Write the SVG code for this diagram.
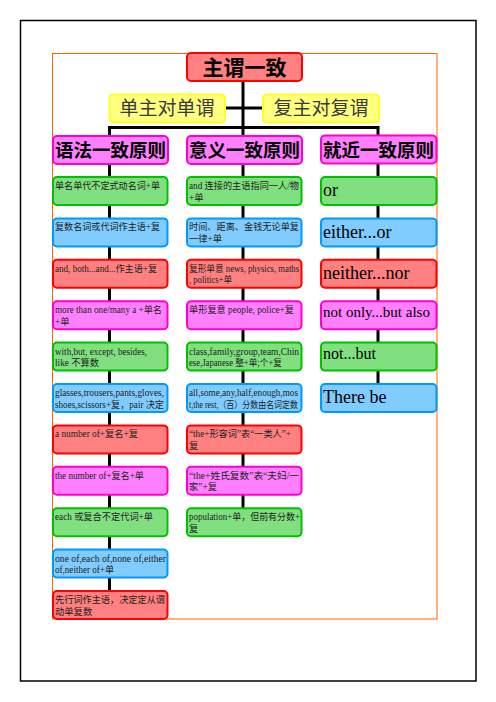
<svg xmlns="http://www.w3.org/2000/svg" width="496" height="702" viewBox="0 0 496 702">
<style>
.bx{stroke-width:2}
.g{fill:#80E080;stroke:#00C000}
.b{fill:#80CCFF;stroke:#0099FF}
.r{fill:#FF8080;stroke:#FF0000}
.p{fill:#FF80FF;stroke:#FF00CC}
.y{fill:#FFFF80;stroke:#FFFF22}
.hd{font-family:"Noto Sans CJK SC",sans-serif;font-weight:bold;fill:#000;text-anchor:middle}
.yt{font-family:"Noto Sans CJK SC",sans-serif;font-size:19px;fill:#3a3a3a;text-anchor:middle}
.sm{font-family:"Liberation Serif","Noto Sans CJK SC",serif;font-size:9.3px;fill:#1e1e1e}
.rt{font-family:"Liberation Serif","Noto Sans CJK SC",serif;fill:#000}
.ln{stroke:#000;stroke-width:3;fill:none}
</style>
<rect x="20.5" y="20.5" width="455.5" height="660.5" fill="#fff" stroke="#000" stroke-width="1.5"/>
<rect x="52.5" y="53.5" width="384.5" height="565.5" fill="none" stroke="#FF6600" stroke-width="1"/>
<g id="connectors">
<path class="ln" d="M243,81 V136 M225,108 H263 M108,127.5 H379.5 M109.5,127.5 V136 M378,127.5 V136"/>
<path class="ln" d="M109.5,164 V591 M243,164 V508.2 M378,163 V384"/>
</g>
<g id="root"><rect class="bx r" x="187" y="53" width="115" height="28" rx="4"/><text class="hd" x="244.5" y="75" font-size="21">主谓一致</text></g>
<g id="y1"><rect class="bx y" x="109.5" y="94.5" width="115.5" height="28" rx="4"/><text class="yt" x="167" y="115">单主对单谓</text></g>
<g id="y2"><rect class="bx y" x="263" y="94.5" width="116" height="28" rx="4"/><text class="yt" x="321" y="115">复主对复谓</text></g>
<g id="h1"><rect class="bx p" x="53" y="136" width="115" height="28" rx="4"/><text class="hd" x="110.5" y="157" font-size="18.5">语法一致原则</text></g>
<g id="h2"><rect class="bx p" x="187" y="136" width="115" height="28" rx="4"/><text class="hd" x="244.5" y="157" font-size="18.5">意义一致原则</text></g>
<g id="h3"><rect class="bx p" x="321" y="135.5" width="115.5" height="28" rx="4"/><text class="hd" x="378.5" y="156.5" font-size="18.5">就近一致原则</text></g>

<g id="L1"><rect class="bx g" x="53" y="177" width="114.5" height="28" rx="4"/><text class="sm" x="55" y="189" textLength="105" lengthAdjust="spacingAndGlyphs">单名单代不定式动名词+单</text></g>
<g id="L2"><rect class="bx b" x="53" y="218.4" width="114.5" height="28" rx="4"/><text class="sm" x="55" y="230.4" textLength="105" lengthAdjust="spacingAndGlyphs">复数名词或代词作主语+复</text></g>
<g id="L3"><rect class="bx r" x="53" y="259.8" width="114.5" height="28" rx="4"/><text class="sm" x="55" y="271.8" textLength="102" lengthAdjust="spacingAndGlyphs">and, both...and...作主语+复</text></g>
<g id="L4"><rect class="bx p" x="53" y="301.2" width="114.5" height="28" rx="4"/><text class="sm" x="55" y="313.2" textLength="107" lengthAdjust="spacingAndGlyphs">more than one/many a +单名</text><text class="sm" x="55" y="324.7">+单</text></g>
<g id="L5"><rect class="bx g" x="53" y="342.6" width="114.5" height="28" rx="4"/><text class="sm" x="55" y="354.6" textLength="92" lengthAdjust="spacingAndGlyphs">with,but, except, besides,</text><text class="sm" x="55" y="366.1" textLength="44" lengthAdjust="spacingAndGlyphs">like 不算数</text></g>
<g id="L6"><rect class="bx b" x="53" y="384" width="114.5" height="28" rx="4"/><text class="sm" x="55" y="396" textLength="109" lengthAdjust="spacingAndGlyphs">glasses,trousers,pants,gloves,</text><text class="sm" x="55" y="407.5" textLength="109" lengthAdjust="spacingAndGlyphs">shoes,scissors+复，pair 决定</text></g>
<g id="L7"><rect class="bx r" x="53" y="425.4" width="114.5" height="28" rx="4"/><text class="sm" x="55" y="437.4" textLength="83" lengthAdjust="spacingAndGlyphs">a number of+复名+复</text></g>
<g id="L8"><rect class="bx p" x="53" y="466.8" width="114.5" height="28" rx="4"/><text class="sm" x="55" y="478.8" textLength="89" lengthAdjust="spacingAndGlyphs">the number of+复名+单</text></g>
<g id="L9"><rect class="bx g" x="53" y="508.2" width="114.5" height="28" rx="4"/><text class="sm" x="55" y="520.2" textLength="98" lengthAdjust="spacingAndGlyphs">each 或复合不定代词+单</text></g>
<g id="L10"><rect class="bx b" x="53" y="549.6" width="114.5" height="28" rx="4"/><text class="sm" x="55" y="561.6" textLength="111" lengthAdjust="spacingAndGlyphs">one of,each of,none of,either</text><text class="sm" x="55" y="573.1" textLength="59" lengthAdjust="spacingAndGlyphs">of,neither of+单</text></g>
<g id="L11"><rect class="bx r" x="53" y="591" width="114.5" height="28" rx="4"/><text class="sm" x="55" y="603" textLength="110" lengthAdjust="spacingAndGlyphs">先行词作主语，决定定从谓</text><text class="sm" x="55" y="614.5">动单复数</text></g>

<g id="M1"><rect class="bx g" x="187" y="177" width="114.5" height="28" rx="4"/><text class="sm" x="189" y="189" textLength="110" lengthAdjust="spacingAndGlyphs">and 连接的主语指同一人/物</text><text class="sm" x="189" y="200.5">+单</text></g>
<g id="M2"><rect class="bx b" x="187" y="218.4" width="114.5" height="28" rx="4"/><text class="sm" x="189" y="230.4" textLength="110" lengthAdjust="spacingAndGlyphs">时间、距离、金钱无论单复</text><text class="sm" x="189" y="241.9">一律+单</text></g>
<g id="M3"><rect class="bx r" x="187" y="259.8" width="114.5" height="28" rx="4"/><text class="sm" x="189" y="271.8" textLength="110" lengthAdjust="spacingAndGlyphs">复形单意 news, physics, maths</text><text class="sm" x="189" y="283.3" textLength="43" lengthAdjust="spacingAndGlyphs">, politics+单</text></g>
<g id="M4"><rect class="bx p" x="187" y="301.2" width="114.5" height="28" rx="4"/><text class="sm" x="189" y="313.2" textLength="105" lengthAdjust="spacingAndGlyphs">单形复意 people, police+复</text></g>
<g id="M5"><rect class="bx g" x="187" y="342.6" width="114.5" height="28" rx="4"/><text class="sm" x="189" y="354.6" textLength="110" lengthAdjust="spacingAndGlyphs">class,family,group,team,Chin</text><text class="sm" x="189" y="366.1" textLength="93" lengthAdjust="spacingAndGlyphs">ese,Japanese 整+单;个+复</text></g>
<g id="M6"><rect class="bx b" x="187" y="384" width="114.5" height="28" rx="4"/><text class="sm" x="189" y="396" textLength="109" lengthAdjust="spacingAndGlyphs">all,some,any,half,enough,mos</text><text class="sm" x="189" y="407.5" textLength="109" lengthAdjust="spacingAndGlyphs">t,the rest,（百）分数由名词定数</text></g>
<g id="M7"><rect class="bx r" x="187" y="425.4" width="114.5" height="28" rx="4"/><text class="sm" x="189" y="437.4" textLength="102" lengthAdjust="spacingAndGlyphs">“the+形容词”表“一类人”+</text><text class="sm" x="189" y="448.9">复</text></g>
<g id="M8"><rect class="bx p" x="187" y="466.8" width="114.5" height="28" rx="4"/><text class="sm" x="189" y="478.8" textLength="110" lengthAdjust="spacingAndGlyphs">“the+姓氏复数”表“夫妇/一</text><text class="sm" x="189" y="490.3" textLength="28" lengthAdjust="spacingAndGlyphs">家”+复</text></g>
<g id="M9"><rect class="bx g" x="187" y="508.2" width="114.5" height="28" rx="4"/><text class="sm" x="189" y="520.2" textLength="111" lengthAdjust="spacingAndGlyphs">population+单，但前有分数+</text><text class="sm" x="189" y="531.7">复</text></g>

<g id="R1"><rect class="bx g" x="321" y="177" width="115.5" height="28" rx="4"/><text class="rt" x="323" y="195.5" font-size="18">or</text></g>
<g id="R2"><rect class="bx b" x="321" y="218.4" width="115.5" height="28" rx="4"/><text class="rt" x="323" y="237.5" font-size="18">either...or</text></g>
<g id="R3"><rect class="bx r" x="321" y="259.8" width="115.5" height="28" rx="4"/><text class="rt" x="323" y="278.8" font-size="18">neither...nor</text></g>
<g id="R4"><rect class="bx p" x="321" y="301.2" width="115.5" height="28" rx="4"/><text class="rt" x="323" y="317.2" font-size="15">not only...but also</text></g>
<g id="R5"><rect class="bx g" x="321" y="342.6" width="115.5" height="28" rx="4"/><text class="rt" x="323" y="359.3" font-size="16">not...but</text></g>
<g id="R6"><rect class="bx b" x="321" y="384" width="115.5" height="28" rx="4"/><text class="rt" x="323" y="402.7" font-size="18">There be</text></g>
</svg>
